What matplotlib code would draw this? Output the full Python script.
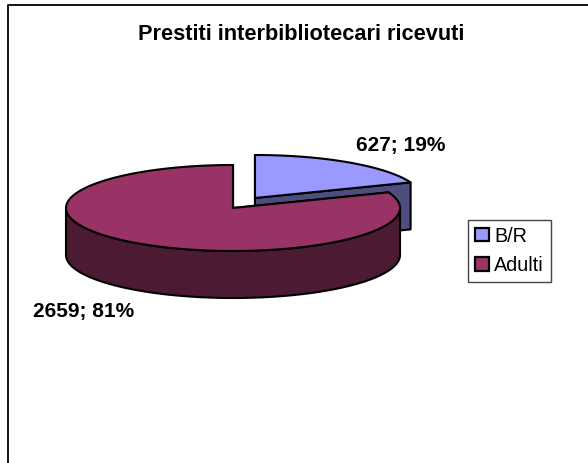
import numpy as np
import matplotlib
matplotlib.use("Agg")
import matplotlib.pyplot as plt
from matplotlib.patches import Patch, Polygon

plt.rcParams['font.family'] = ['Liberation Sans', 'DejaVu Sans']

title = "Prestiti interbibliotecari ricevuti"
categories = ["B/R", "Adulti"]
values = [627, 2659]
percents = [19, 81]
top_colors = ["#9999FF", "#993366"]
side_colors = ["#4D4D80", "#4D1A33"]

W, H = 588, 463
RX, RY, DEPTH = 167, 43, 47
red_c = (233, 208)
blue_c = (255, 198)

fig = plt.figure(figsize=(W / 100, H / 100), dpi=100)
ax = fig.add_axes([0, 0, 1, 1])
ax.set_xlim(0, W)
ax.set_ylim(H, 0)
ax.axis('off')

# frame of the chart, only top and left are inside the picture
ax.plot([7.5, 7.5, W + 5], [H + 5, 5, 5], color="black", lw=1.3, zorder=1)


def arc(c, a0, a1, n=200):
    # angles in degrees, clockwise from the top
    t = np.radians(np.linspace(a0, a1, n))
    return np.column_stack([c[0] + RX * np.sin(t), c[1] - RY * np.cos(t)])


def slice_3d(c, a0, a1, top, side, z):
    lw = 1.5
    pts = arc(c, a0, a1)
    # cut faces first, the rim wall goes over them
    for a in (a0, a1):
        p = arc(c, a, a, 1)[0]
        face = [c, p, p + [0, DEPTH], np.array(c) + [0, DEPTH]]
        ax.add_patch(Polygon(face, fc=side, ec="black", lw=lw, joinstyle="round", zorder=z))
    # outer wall only where the rim faces the viewer
    lo, hi = max(a0, 90), min(a1, 270)
    if lo < hi:
        rim = arc(c, lo, hi)
        wall = np.vstack([rim, rim[::-1] + [0, DEPTH]])
        ax.add_patch(Polygon(wall, fc=side, ec="black", lw=lw, joinstyle="round", zorder=z))
    ax.add_patch(Polygon(np.vstack([[c], pts]), fc=top, ec="black", lw=lw, joinstyle="round", zorder=z + 1))


angle = 360 * values[0] / sum(values)
slice_3d(blue_c, 0, angle, top_colors[0], side_colors[0], 2)
slice_3d(red_c, angle, 360, top_colors[1], side_colors[1], 4)

ax.text(301.5, 34, title, fontsize=15.7, fontweight='bold', ha='center', va='center', zorder=8)
ax.text(400.5, 146, f"{values[0]}; {percents[0]}%", fontsize=15, fontweight='bold', ha='center', va='center', zorder=8)
ax.text(83.5, 311.5, f"{values[1]}; {percents[1]}%", fontsize=15, fontweight='bold', ha='center', va='center', zorder=8)

handles = [Patch(fc=c, ec="black", lw=1.6) for c in top_colors]
leg = ax.legend(handles, categories, loc='upper left', bbox_to_anchor=(468 / W, 1 - 219.5 / H), fontsize=14.2,
                frameon=True, fancybox=False, framealpha=1, edgecolor="#444444", borderpad=0.36,
                handlelength=0.68, handleheight=0.68, handletextpad=0.3, labelspacing=0.52, borderaxespad=0)
leg.get_frame().set_linewidth(1.0)
leg.set_zorder(9)

fig.savefig("out.png", dpi=100, facecolor="white")
